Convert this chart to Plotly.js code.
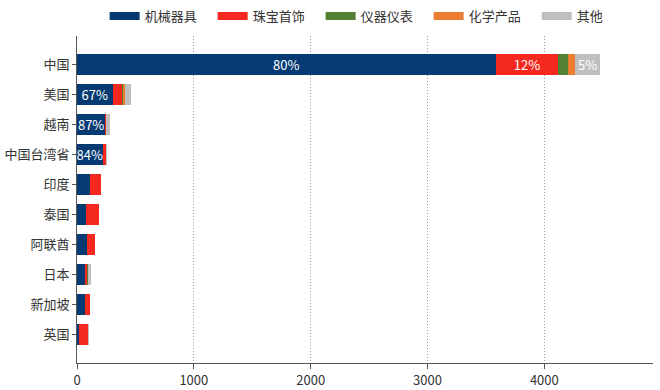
<!DOCTYPE html>
<html>
<head>
<meta charset="utf-8">
<script src="https://cdn.plot.ly/plotly-3.0.1.min.js"></script>
<style>html,body{margin:0;padding:0;background:#fff;}#chart{width:660px;height:390px;}</style>
</head>
<body>
<div id="chart"></div>
<script>
const categories = ['中国', '美国', '越南', '中国台湾省', '印度', '泰国', '阿联酋', '日本', '新加坡', '英国'];
const seriesNames = ['机械器具', '珠宝首饰', '仪器仪表', '化学产品', '其他'];
const machinery   = [3583, 305, 242, 219, 111, 77, 88, 66, 66, 20];
const jewelry     = [537, 77, 6, 25, 93, 108, 66, 18, 45, 77];
const instruments = [80, 14, 2, 2, 1, 1, 1, 8, 1, 0];
const chemicals   = [60, 12, 2, 2, 1, 1, 1, 4, 1, 1];
const others      = [219, 51, 27, 11, 2, 2, 1, 28, 2, 2];
const machineryLabels = ['80%', '67%', '87%', '84%', '', '', '', '', '', ''];
const jewelryLabels   = ['12%', '', '', '', '', '', '', '', '', ''];
const othersLabels    = ['5%', '', '', '', '', '', '', '', '', ''];
const xTicks = [0, 1000, 2000, 3000, 4000];

const colors = ['#053a73', '#f4281e', '#548235', '#ed7d31', '#bfbfbf'];
const values = [machinery, jewelry, instruments, chemicals, others];
const labels = [machineryLabels, jewelryLabels, null, null, othersLabels];
const FONT = '"Noto Sans CJK SC", "Noto Sans", sans-serif';

const traces = [];
values.forEach((v, i) => {
  traces.push({
    type: 'bar', orientation: 'h', name: seriesNames[i],
    y: categories, x: v,
    marker: {color: colors[i], line: {width: 0}},
    text: labels[i] || undefined,
    textposition: labels[i] ? 'inside' : 'none',
    insidetextanchor: 'middle',
    constraintext: 'none',
    textangle: 0,
    insidetextfont: {color: '#ffffff', size: 13, family: FONT},
    hoverinfo: 'x+y+name',
    showlegend: false,
    legendgroup: 'g' + i
  });
});
seriesNames.forEach((n, i) => {
  traces.push({
    type: 'scatter', mode: 'lines', name: n,
    x: [null], y: [null],
    line: {color: colors[i], width: 8},
    showlegend: true, legendgroup: 'g' + i, hoverinfo: 'skip'
  });
});

const layout = {
  width: 660, height: 390,
  margin: {l: 77, r: 7, t: 36, b: 27, pad: 0},
  paper_bgcolor: '#fff', plot_bgcolor: '#fff',
  barmode: 'stack', bargap: 0.28,
  font: {family: FONT, size: 13, color: '#333'},
  showlegend: true,
  legend: {
    orientation: 'h', x: 0.048, xanchor: 'left',
    yref: 'container', y: 0.959, yanchor: 'middle',
    entrywidth: 63, entrywidthmode: 'pixels',
    font: {size: 13, color: '#333', family: FONT},
    itemsizing: 'trace', tracegroupgap: 0, bgcolor: 'rgba(0,0,0,0)'
  },
  xaxis: {
    range: [0, 4930], tickvals: xTicks, ticktext: xTicks.map(String),
    showgrid: true, gridcolor: '#999999', griddash: '1px,2px', gridwidth: 1,
    zeroline: false, showline: true, linecolor: '#555', linewidth: 1,
    ticks: 'outside', ticklen: 5, tickcolor: '#555',
    tickfont: {size: 13, color: '#333', family: FONT}, fixedrange: true
  },
  yaxis: {
    type: 'category', categoryorder: 'array', categoryarray: categories,
    range: [9.95, -0.95],
    showgrid: false, zeroline: false, showline: true, linecolor: '#555', linewidth: 1,
    ticks: 'outside', ticklen: 4, tickcolor: '#555',
    tickfont: {size: 13, color: '#333', family: FONT}, fixedrange: true
  }
};

Plotly.newPlot('chart', traces, layout, {displayModeBar: false, staticPlot: true});
</script>
</body>
</html>
